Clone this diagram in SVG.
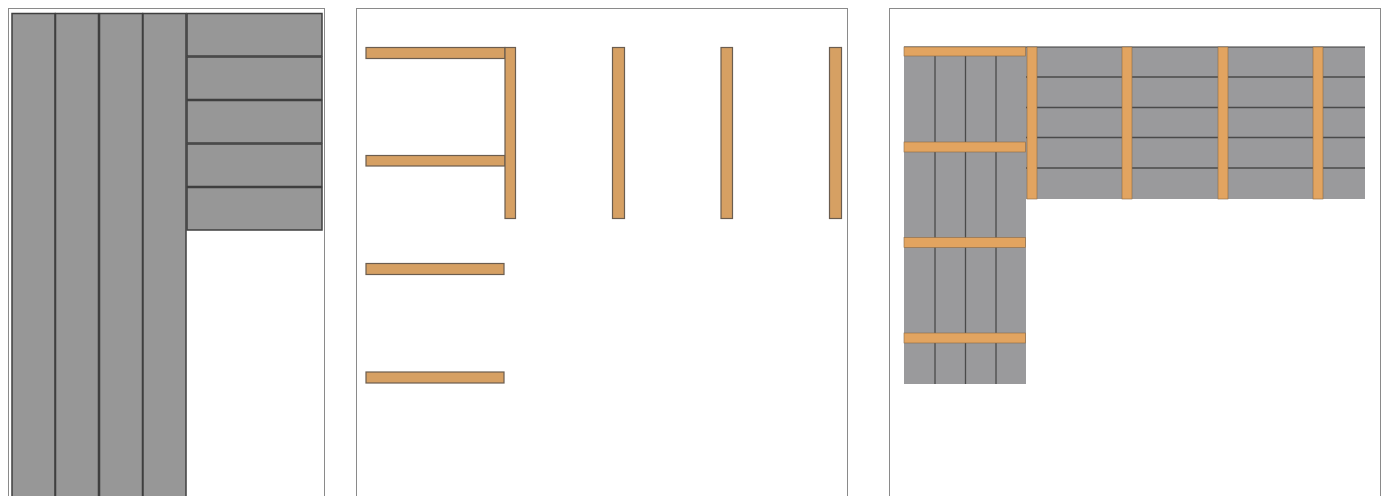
<svg xmlns="http://www.w3.org/2000/svg" width="1388" height="496" viewBox="0 0 1388 496">
<style>
.frame{fill:#fff;stroke:#8a8a8a;stroke-width:1}
.plank{fill:#979797;stroke:#3f3f3f;stroke-width:1.5}
.beam{fill:#d6a063;stroke:#6b5d4f;stroke-width:1.2}
.beam3{fill:#e2a460;stroke:#8a6a45;stroke-width:0.6}
.gray3{fill:#9a9a9c;stroke:none}
.seam{stroke:#4a4a4a;stroke-width:1.3}
</style>
<rect width="1388" height="496" fill="#fff"/>
<g id="panel1">
<rect class="frame" x="8.5" y="8.5" width="316" height="500"/>
<rect class="plank" x="12" y="13.5" width="43" height="484"/>
<rect class="plank" x="55.5" y="13.5" width="43" height="484"/>
<rect class="plank" x="99.5" y="13.5" width="43" height="484"/>
<rect class="plank" x="143" y="13.5" width="43" height="484"/>
<rect class="plank" x="187" y="13.5" width="135" height="42.5"/>
<rect class="plank" x="187" y="57" width="135" height="42.5"/>
<rect class="plank" x="187" y="100.5" width="135" height="42.5"/>
<rect class="plank" x="187" y="144" width="135" height="42.5"/>
<rect class="plank" x="187" y="187.5" width="135" height="42.5"/>
</g>
<g id="panel2">
<rect class="frame" x="356.5" y="8.5" width="491" height="500"/>
<rect class="beam" x="366" y="47.5" width="139" height="11"/>
<rect class="beam" x="366" y="155.5" width="139" height="10.5"/>
<rect class="beam" x="366" y="263.5" width="138" height="11"/>
<rect class="beam" x="366" y="372" width="138" height="11"/>
<rect class="beam" x="505" y="47.5" width="10.5" height="171"/>
<rect class="beam" x="612.5" y="47.5" width="12" height="171"/>
<rect class="beam" x="721" y="47.5" width="11.5" height="171"/>
<rect class="beam" x="829.5" y="47.5" width="12" height="171"/>
</g>
<g id="panel3">
<rect class="frame" x="889.5" y="8.5" width="491" height="500"/>
<rect class="gray3" x="904" y="47" width="122" height="337"/>
<rect class="gray3" x="1026" y="47" width="339" height="152"/>
<line x1="904" y1="47" x2="1365" y2="47" stroke="#3a3a3a" stroke-width="1"/>
<line class="seam" x1="935" y1="47" x2="935" y2="384"/>
<line class="seam" x1="965.5" y1="47" x2="965.5" y2="384"/>
<line class="seam" x1="996" y1="47" x2="996" y2="384"/>
<line class="seam" x1="1026" y1="77" x2="1365" y2="77"/>
<line class="seam" x1="1026" y1="107.5" x2="1365" y2="107.5"/>
<line class="seam" x1="1026" y1="137.5" x2="1365" y2="137.5"/>
<line class="seam" x1="1026" y1="168" x2="1365" y2="168"/>
<rect class="beam3" x="904" y="47" width="121.5" height="9"/>
<rect class="beam3" x="904" y="142" width="121.5" height="10"/>
<rect class="beam3" x="904" y="237.5" width="121.5" height="10"/>
<rect class="beam3" x="904" y="333" width="121.5" height="10"/>
<rect class="beam3" x="1027" y="47" width="10" height="152"/>
<rect class="beam3" x="1122" y="47" width="10" height="152"/>
<rect class="beam3" x="1218" y="47" width="10" height="152"/>
<rect class="beam3" x="1313" y="47" width="10" height="152"/>
</g>
</svg>
